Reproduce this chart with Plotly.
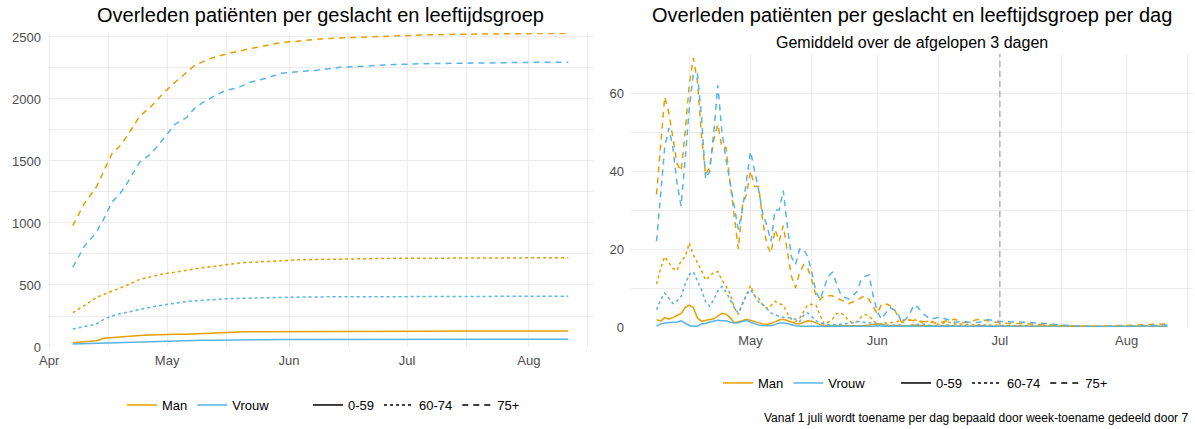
import pandas as pd
import plotly.graph_objects as go

# colours / line types (ggplot-like)
ORANJE = "#E69F00"
BLAUW = "#56B4E9"
DASH = {"0-59": "solid", "60-74": "3px,3px", "75+": "6px,5px"}

# ---- cumulatief (links) ----
cum_dates = ["2020-04-07", "2020-04-10", "2020-04-13", "2020-04-15", "2020-04-17", "2020-04-19",
             "2020-04-21", "2020-04-24", "2020-04-27", "2020-04-30", "2020-05-03", "2020-05-06",
             "2020-05-08", "2020-05-10", "2020-05-13", "2020-05-16", "2020-05-19", "2020-05-22",
             "2020-05-26", "2020-05-30", "2020-06-03", "2020-06-08", "2020-06-14", "2020-06-21",
             "2020-06-28", "2020-07-06", "2020-07-15", "2020-07-25", "2020-08-04", "2020-08-11"]

cum_man_75 = [978, 1160, 1290, 1420, 1560, 1620, 1710, 1860, 1942, 2045, 2135, 2215, 2270, 2299, 2337,
              2362, 2385, 2405, 2430, 2455, 2465, 2482, 2492, 2500, 2510, 2517, 2522, 2525, 2528, 2530]
cum_vrouw_75 = [643, 815, 925, 1040, 1170, 1235, 1330, 1490, 1560, 1675, 1795, 1852, 1925, 1970, 2025,
                2070, 2090, 2135, 2165, 2208, 2218, 2232, 2255, 2268, 2278, 2285, 2290, 2293, 2296, 2297]
cum_man_60 = [277, 335, 400, 425, 450, 475, 500, 545, 565, 590, 602, 621, 630, 638, 650,
              668, 676, 683, 690, 698, 702, 706, 710, 713, 715, 716, 717, 718, 719, 720]
cum_vrouw_60 = [145, 165, 185, 225, 250, 268, 283, 305, 322, 339, 355, 367, 372, 377, 383,
                389, 392, 395, 398, 400, 402, 404, 405, 406, 407, 408, 409, 409, 410, 410]
cum_man_0 = [35, 40, 50, 70, 76, 80, 85, 93, 97, 101, 102, 103, 106, 110, 115,
             120, 121, 122, 123, 124, 125, 126, 127, 127, 128, 128, 129, 129, 130, 130]
cum_vrouw_0 = [24, 27, 30, 33, 36, 38, 40, 43, 46, 49, 51, 52, 53, 54, 55,
               57, 58, 58, 59, 60, 60, 61, 61, 62, 62, 62, 63, 63, 63, 63]

# ---- per dag, gemiddeld over 3 dagen (rechts) ----
dag_dates = [d.strftime("%Y-%m-%d") for d in pd.date_range("2020-04-08", "2020-06-12")] + \
    ["2020-06-14", "2020-06-16", "2020-06-18", "2020-06-20", "2020-06-22", "2020-06-24",
     "2020-06-26", "2020-06-28", "2020-07-01", "2020-07-08", "2020-07-15", "2020-07-22",
     "2020-07-29", "2020-08-05", "2020-08-11"]

dag_man_75 = [34, 46, 59, 55, 49, 42, 40, 50, 62, 69,
              63, 49, 39, 41, 48, 52, 46, 46, 37, 28,
              20, 31, 34, 40, 36, 36, 27, 21, 19, 25,
              22, 26, 19, 13, 10, 14, 16, 15, 12, 8,
              7, 8, 8, 8, 7.5, 7, 6.3, 6, 6.4, 6.8,
              7.5, 8, 7, 5, 3.4, 5.8, 6, 5.5, 5, 2.8,
              1.2, 1.2, 1.8, 1.6, 1.5, 1.4,
              1.2, 1.0, 1.6, 2.0, 1.1, 1.5, 2.0, 1.6, 1.0, 0.8, 0.4, 0.1, 0.3, 0.6, 0.8]
dag_vrouw_75 = [22, 34, 46, 51, 46, 37, 31, 43, 56, 65,
                65, 54, 38, 40, 50, 62, 50, 43, 37, 30,
                25, 30, 38, 45, 40, 35, 29, 26, 22, 30,
                30, 35, 26, 18, 16, 20, 20, 18, 14, 9,
                7, 10, 13, 14, 11, 8.5, 7.6, 7.2, 8, 9,
                12, 13, 13.4, 8, 4, 2, 3.5, 5, 4.5, 3.6,
                1.2, 2, 3.5, 5.7, 5, 3.6,
                2.0, 2.5, 2.0, 1.2, 1.4, 1.1, 1.2, 1.9, 1.4, 1.2, 0.6, 0.1, 0.2, 0.4, 0.5]
dag_man_60 = [11, 15, 18, 16.5, 15, 14.5, 17, 18, 21.5, 18.5,
              16.5, 14.5, 12, 13, 14, 14.2, 12, 10.5, 8.5, 5,
              3.2, 5.8, 8, 10.6, 8, 7.4, 5.5, 4.8, 5.5, 6.6,
              6, 5.6, 3.5, 2, 1.4, 2.2, 4, 5.7, 5.8, 5.6,
              3, 0.8, 1.2, 2, 3.4, 3.6, 3, 1.6, 1.1, 1.3,
              2.5, 3.2, 2.8, 1.8, 0.6, 0.8, 1.0, 1.0, 1.2, 1.5,
              1.7, 1.9, 1.8, 1.9, 1.5, 1.2,
              1.6, 0.6, 1.4, 0.8, 0.7, 0.6, 0.5, 0.4, 0.4, 0.3, 0.2, 0.1, 0.1, 0.2, 0.2]
dag_vrouw_60 = [4.4, 7, 8.7, 7.2, 6, 6.6, 7.8, 11, 13.5, 14.2,
                12, 9.5, 6.5, 5.3, 7, 9.3, 10.4, 9, 7, 5,
                3.6, 6, 8.3, 9.5, 8, 6.4, 5.8, 4.6, 3.6, 3.2,
                2.7, 2.5, 2.4, 2.3, 2, 1.4, 3, 3.6, 2.7, 1.6,
                1.0, 0.8, 0.6, 0.6, 0.6, 0.7, 0.8, 0.9, 1.1, 1.4,
                1.3, 1.3, 1.2, 1.0, 0.8, 0.6, 0.5, 0.4, 0.5, 0.6,
                0.4, 0.3, 0.4, 0.5, 0.7, 0.8,
                0.4, 0.3, 0.5, 0.3, 0.3, 0.2, 0.4, 0.3, 0.3, 0.2, 0.1, 0.1, 0.1, 0.2, 0.2]
dag_man_0 = [1.9, 1.5, 2.4, 2.0, 2.4, 3.0, 3.5, 5.0, 5.6, 5.0,
             2.3, 1.5, 1.7, 1.9, 2.1, 2.8, 3.5, 3.3, 2.4, 1.1,
             1.3, 1.6, 2.0, 1.7, 1.4, 1.0, 0.8, 0.7, 0.9, 1.3,
             1.8, 2.0, 1.7, 1.3, 0.9, 0.8, 1.2, 1.6, 1.5, 1.0,
             0.6, 0.3, 0.3, 0.3, 0.3, 0.3, 0.3, 0.3, 0.3, 0.3,
             0.3, 0.4, 0.5, 0.6, 0.8, 0.7, 0.5, 0.3, 0.3, 0.3,
             0.3, 0.3, 0.3, 0.5, 0.4, 0.3,
             0.3, 0.2, 0.3, 0.2, 0.2, 0.2, 0.3, 0.2, 0.2, 0.2, 0.1, 0.1, 0.1, 0.1, 0.1]
dag_vrouw_0 = [0.2, 0.8, 1.0, 1.1, 1.2, 1.3, 1.6, 1.1, 0.4, 0.2,
               0.2, 0.8, 0.9, 1.3, 1.6, 1.7, 1.6, 1.6, 1.3, 1.0,
               1.1, 1.5, 1.7, 1.2, 0.8, 0.5, 0.4, 0.4, 0.3, 0.6,
               1.0, 1.0, 0.9, 0.6, 0.3, 0.2, 0.2, 0.2, 0.2, 0.2,
               0.2, 0.2, 0.1, 0.1, 0.1, 0.1, 0.2, 0.2, 0.1, 0.1,
               0.1, 0.1, 0.2, 0.2, 0.3, 0.2, 0.1, 0.1, 0.1, 0.1,
               0.1, 0.1, 0.1, 0.1, 0.1, 0.1,
               0.1, 0.1, 0.1, 0.1, 0.1, 0.1, 0.1, 0.1, 0.1, 0.1, 0.1, 0.1, 0.1, 0.1, 0.1]

W, H = 1195, 429
FONT = "Liberation Sans, Arial, sans-serif"

fig = go.Figure()

links = [("Man", "0-59", cum_man_0), ("Vrouw", "0-59", cum_vrouw_0),
         ("Man", "60-74", cum_man_60), ("Vrouw", "60-74", cum_vrouw_60),
         ("Man", "75+", cum_man_75), ("Vrouw", "75+", cum_vrouw_75)]
rechts = [("Man", "0-59", dag_man_0), ("Vrouw", "0-59", dag_vrouw_0),
          ("Man", "60-74", dag_man_60), ("Vrouw", "60-74", dag_vrouw_60),
          ("Man", "75+", dag_man_75), ("Vrouw", "75+", dag_vrouw_75)]

for sekse, leeftijd, y in links:
    fig.add_trace(go.Scatter(x=cum_dates, y=y, mode="lines", showlegend=False,
                             line=dict(color=ORANJE if sekse == "Man" else BLAUW,
                                       dash=DASH[leeftijd], width=1.5),
                             xaxis="x", yaxis="y"))
for sekse, leeftijd, y in rechts:
    fig.add_trace(go.Scatter(x=dag_dates, y=y, mode="lines", showlegend=False,
                             line=dict(color=ORANJE if sekse == "Man" else BLAUW,
                                       dash=DASH[leeftijd], width=1.5),
                             xaxis="x2", yaxis="y2"))

# legend keys (empty traces)
for lg_col, lg_lt, xa, ya in [("legend", "legend2", "x", "y"), ("legend3", "legend4", "x2", "y2")]:
    for naam, kleur in [("Man", ORANJE), ("Vrouw", BLAUW)]:
        fig.add_trace(go.Scatter(x=[None], y=[None], mode="lines", name=naam, legend=lg_col,
                                 line=dict(color=kleur, width=1.5), xaxis=xa, yaxis=ya))
    for naam in ["0-59", "60-74", "75+"]:
        fig.add_trace(go.Scatter(x=[None], y=[None], mode="lines", name=naam, legend=lg_lt,
                                 line=dict(color="black", width=1.5, dash=DASH[naam]),
                                 xaxis=xa, yaxis=ya))

grid = "#EBEBEB"
tick_font = dict(size=13, color="#4D4D4D", family=FONT)


def xas(domain, rng):
    return dict(domain=domain, range=rng, type="date", dtick="M1", tick0="2020-04-01",
                tickformat="%b", showgrid=True, gridcolor=grid, gridwidth=1.1, zeroline=False,
                showline=False, ticks="", tickfont=tick_font, ticklabelstandoff=4, automargin=False,
                minor=dict(dtick="M1", tick0="2020-04-16", showgrid=True, gridcolor=grid, gridwidth=0.6))


def yas(domain, rng, dtick, anchor):
    return dict(domain=domain, range=rng, dtick=dtick, showgrid=True, gridcolor=grid, gridwidth=1.1,
                zeroline=False, showline=False, ticks="", tickfont=tick_font, anchor=anchor,
                ticklabelstandoff=6, automargin=False,
                minor=dict(dtick=dtick / 2, showgrid=True, gridcolor=grid, gridwidth=0.6))


def leg(x, y):
    return dict(orientation="h", x=x / W, xanchor="left", y=1 - y / H, yanchor="middle",
                font=dict(size=13), itemwidth=30, bgcolor="rgba(0,0,0,0)")


fig.update_layout(
    width=W, height=H, margin=dict(l=0, r=0, t=0, b=0, autoexpand=False),
    paper_bgcolor="white", plot_bgcolor="white",
    font=dict(family=FONT, color="black"),
    xaxis=xas([48 / W, 593 / W], ["2020-03-31 17:00", "2020-08-17 07:00"]),
    yaxis=yas([1 - 347 / H, 1 - 33 / H], [0, 2532], 500, "x"),
    xaxis2=xas([631 / W, 1193 / W], ["2020-04-01 18:00", "2020-08-17 06:00"]) | dict(anchor="y2"),
    yaxis2=yas([1 - 327 / H, 1 - 54 / H], [0, 70], 20, "x2"),
    legend=leg(122, 405),
    legend2=leg(308, 405),
    legend3=leg(718, 383),
    legend4=leg(896, 383),
)

# vanaf 1 juli: weekcijfers
fig.add_shape(type="line", xref="x2", yref="y2 domain", x0="2020-07-01", x1="2020-07-01", y0=0, y1=1,
              line=dict(color="#A6A6A6", width=1.3, dash="6px,4px"))

fig.add_annotation(text="Overleden patiënten per geslacht en leeftijdsgroep", xref="paper", yref="paper",
                   x=320 / W, y=1 - 15 / H, xanchor="center", yanchor="middle", showarrow=False,
                   font=dict(size=20, color="black"))
fig.add_annotation(text="Overleden patiënten per geslacht en leeftijdsgroep per dag", xref="paper",
                   yref="paper", x=912 / W, y=1 - 15 / H, xanchor="center", yanchor="middle",
                   showarrow=False, font=dict(size=20, color="black"))
fig.add_annotation(text="Gemiddeld over de afgelopen 3 dagen", xref="paper", yref="paper",
                   x=912 / W, y=1 - 42 / H, xanchor="center", yanchor="middle", showarrow=False,
                   font=dict(size=16, color="black"))
fig.add_annotation(text="Vanaf 1 juli wordt toename per dag bepaald door week-toename gedeeld door 7",
                   xref="paper", yref="paper", x=1190 / W, y=1 - 418 / H, xanchor="right",
                   yanchor="middle", showarrow=False, font=dict(size=12, color="black"))

# page margin off, so the figure starts at the top-left corner
fig.write_html("out.html", config={"displayModeBar": False},
               post_script="document.body.style.margin='0';")
